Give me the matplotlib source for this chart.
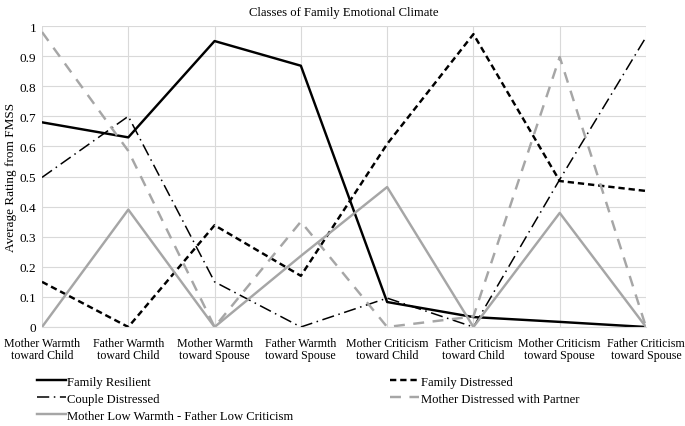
"""Classes of family emotional climate: FMSS average ratings per latent class."""

import matplotlib.pyplot as plt
import numpy as np

plt.rcParams["font.family"] = ["Liberation Serif", "DejaVu Serif"]

categories = [
    "Mother Warmth\ntoward Child",
    "Father Warmth\ntoward Child",
    "Mother Warmth\ntoward Spouse",
    "Father Warmth\ntoward Spouse",
    "Mother Criticism\ntoward Child",
    "Father Criticism\ntoward Child",
    "Mother Criticism\ntoward Spouse",
    "Father Criticism\ntoward Spouse",
]

family_resilient = [0.68, 0.63, 0.95, 0.868, 0.083, 0.033, 0.017, 0.0]
family_distressed = [0.15, 0.0, 0.338, 0.17, 0.608, 0.973, 0.485, 0.452]
couple_distressed = [0.497, 0.70, 0.15, 0.0, 0.096, 0.0, 0.49, 0.963]
mother_distressed_partner = [0.98, 0.585, 0.0, 0.35, 0.0, 0.035, 0.897, 0.0]
mother_low_warmth = [0.0, 0.39, 0.0, 0.236, 0.465, 0.0, 0.379, 0.0]

y_ticks = [0, 0.1, 0.2, 0.3, 0.4, 0.5, 0.6, 0.7, 0.8, 0.9, 1]
y_tick_labels = ["0", "0.1", "0.2", "0.3", "0.4", "0.5", "0.6", "0.7", "0.8", "0.9", "1"]

x = np.arange(len(categories))

fig = plt.figure(figsize=(6.85, 4.27), dpi=100)
ax = fig.add_axes([42 / 685, 1 - 328 / 427, (646 - 42) / 685, (328 - 27) / 427])

lw = 1.75
h_fr, = ax.plot(x, family_resilient, color="black", lw=lw, label="Family Resilient")
h_fd, = ax.plot(x, family_distressed, color="black", lw=lw, dashes=(2.6, 1.6),
                label="Family Distressed")
h_cd, = ax.plot(x, couple_distressed, color="black", lw=1.1, dashes=(8, 3, 1, 3),
                label="Couple Distressed")
h_mdp, = ax.plot(x, mother_distressed_partner, color="#a6a6a6", lw=lw, dashes=(4.5, 3.5),
                 label="Mother Distressed with Partner")
h_mlw, = ax.plot(x, mother_low_warmth, color="#a6a6a6", lw=lw,
                 label="Mother Low Warmth - Father Low Criticism")

ax.set_xlim(0, len(categories) - 1)
ax.set_ylim(0, 1)
ax.set_xticks(x)
ax.set_xticklabels(categories, fontsize=8.6, linespacing=1.0)
ax.set_yticks(y_ticks)
ax.set_yticklabels(y_tick_labels, fontsize=9.5)
ax.tick_params(axis="x", length=0, pad=7)
ax.tick_params(axis="y", length=0, pad=4)
ax.grid(True, color="#d9d9d9", lw=0.8)
ax.set_axisbelow(True)
for side in ["top", "right", "left"]:
    ax.spines[side].set_visible(False)
ax.spines["bottom"].set_color("#d9d9d9")

ax.set_ylabel("Average Rating from FMSS", fontsize=9.5, labelpad=2)
ax.set_title("Classes of Family Emotional Climate", fontsize=9.1, pad=8)

ax.legend(
    handles=[h_fr, h_cd, h_mlw, h_fd, h_mdp],
    ncol=2,
    loc="upper left",
    bbox_to_anchor=(-10 / 604, -0.145),
    frameon=False,
    fontsize=9.1,
    handlelength=2.3,
    handletextpad=0.1,
    columnspacing=7.65,
    labelspacing=0.4,
    borderaxespad=0,
)

fig.savefig("out.png", dpi=100)
